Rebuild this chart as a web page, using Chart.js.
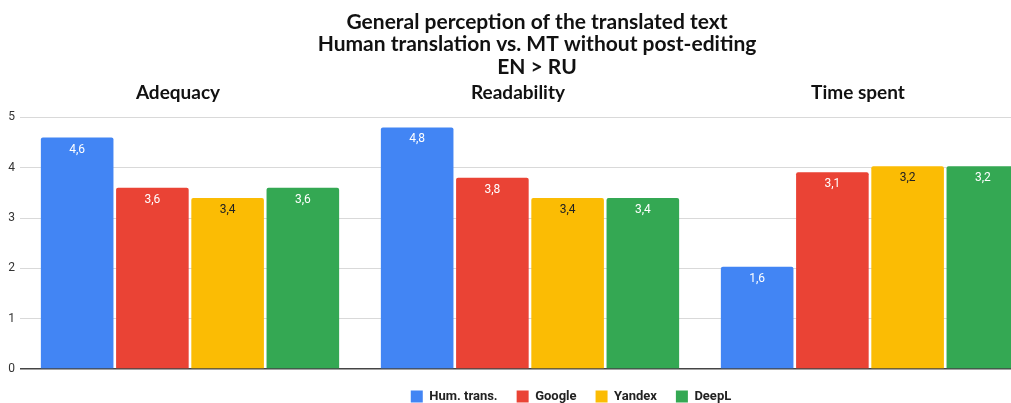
<!DOCTYPE html>
<html>
<head>
<meta charset="utf-8">
<script src="https://cdn.jsdelivr.net/npm/chart.js@4.4.1/dist/chart.umd.min.js"></script>
<style>
    html, body { margin: 0; padding: 0; background: #fff; overflow: hidden; }
    .wrap { width: 1040px; height: 403px; }
</style>
</head>
<body>
<div class="wrap"><canvas id="myChart"></canvas></div>
<script>
// data
const categories = ['Adequacy', 'Readability', 'Time spent'];
const seriesNames = ['Hum. trans.', 'Google', 'Yandex', 'DeepL'];

const humTrans = [4.6, 4.8, 2.03];
const google = [3.6, 3.8, 3.91];
const yandex = [3.4, 3.4, 4.03];
const deepl = [3.6, 3.4, 4.03];

// value labels printed on the bars
const humTransLabels = ['4,6', '4,8', '1,6'];
const googleLabels = ['3,6', '3,8', '3,1'];
const yandexLabels = ['3,4', '3,4', '3,2'];
const deeplLabels = ['3,6', '3,4', '3,2'];

const yTicks = [0, 1, 2, 3, 4, 5];

const colors = ['#4285F4', '#EA4335', '#FBBC04', '#34A853'];
const labelColors = ['#ffffff', '#ffffff', '#222222', '#ffffff'];

const allValues = [humTrans, google, yandex, deepl];
const allLabels = [humTransLabels, googleLabels, yandexLabels, deeplLabels];

function getDatasets() {
    let datasets = [];

    for (let i = 0; i < seriesNames.length; i++) {
        datasets.push({
            label: seriesNames[i],
            data: allValues[i],
            backgroundColor: colors[i],
            borderRadius: 2,
            borderSkipped: 'bottom',
            barPercentage: 0.965,
            categoryPercentage: 0.885
        });
    }

    return datasets;
}

const barLabels = {
    id: 'barLabels',
    afterDatasetsDraw(chart) {
        const ctx = chart.ctx;
        ctx.save();
        ctx.font = '12px Roboto, "Liberation Sans", sans-serif';
        ctx.textAlign = 'center';
        ctx.textBaseline = 'middle';
        chart.data.datasets.forEach((ds, i) => {
            chart.getDatasetMeta(i).data.forEach((bar, j) => {
                ctx.fillStyle = labelColors[i];
                ctx.fillText(allLabels[i][j], bar.x, bar.y + 12);
            });
        });
        ctx.restore();
    }
};

// legend and title in the picture sit right of centre
const blockShift = {
    id: 'blockShift',
    afterLayout(chart) {
        chart.legend.left += 51;
        chart.legend.right += 51;
        chart.legend.top += 2;
        chart.legend.bottom += 2;
        chart.titleBlock.left += 17;
        chart.titleBlock.right += 17;
    }
};

const ctx = document.getElementById('myChart');
const myChart = new Chart(ctx, {
    type: 'bar',
    data: {
        labels: categories,
        datasets: getDatasets()
    },
    plugins: [barLabels, blockShift],
    options: {
        responsive: true,
        maintainAspectRatio: false,
        animation: false,
        layout: { padding: { left: 0, right: 0, top: 0, bottom: -8 } },
        plugins: {
            title: {
                display: true,
                text: ['General perception of the translated text', 'Human translation vs. MT without post-editing', 'EN > RU'],
                color: '#111',
                font: { family: 'Lato, "Open Sans", sans-serif', size: 21, weight: 'bold', lineHeight: 1.07 },
                padding: { top: 11, bottom: 0 }
            },
            legend: {
                position: 'bottom',
                labels: {
                    boxWidth: 12,
                    boxHeight: 12,
                    padding: 19,
                    color: '#222',
                    font: { family: 'Roboto, "Liberation Sans", sans-serif', size: 13, weight: 'bold' }
                }
            },
            tooltip: { enabled: false }
        },
        scales: {
            x: {
                position: 'top',
                afterFit: s => { s.height = 39; },
                grid: { display: false, drawTicks: false },
                border: { display: false },
                ticks: {
                    color: '#111',
                    padding: 13,
                    labelOffset: -12,
                    font: { family: 'Lato, "Open Sans", sans-serif', size: 19, weight: 'bold' }
                }
            },
            y: {
                min: 0,
                max: 5,
                afterFit: s => { s.width = 20; },
                afterBuildTicks: s => { s.ticks = yTicks.map(v => ({ value: v })); },
                grid: {
                    drawTicks: false,
                    color: c => c.tick && c.tick.value === 0 ? '#444' : '#d9d9d9',
                    lineWidth: c => c.tick && c.tick.value === 0 ? 1.5 : 1
                },
                border: { display: false },
                ticks: {
                    color: '#333',
                    padding: 5,
                    font: { family: 'Roboto, "Liberation Sans", sans-serif', size: 12 }
                }
            }
        }
    }
});
</script>
</body>
</html>
